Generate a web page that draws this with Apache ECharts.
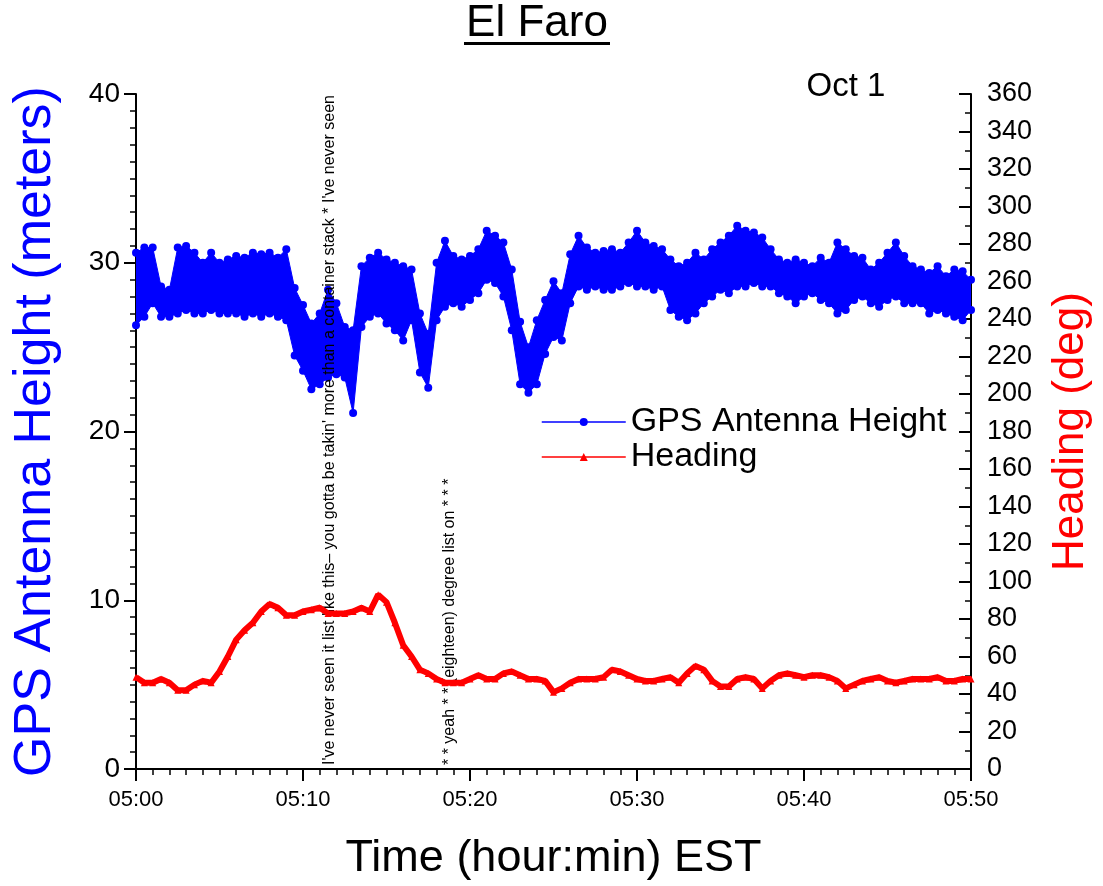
<!DOCTYPE html>
<html>
<head>
<meta charset="utf-8">
<script src="https://cdn.jsdelivr.net/npm/echarts@6/dist/echarts.min.js"></script>
<style>
  html, body { margin: 0; padding: 0; background: #fff; }
  #chart { width: 1103px; height: 886px; }
</style>
</head>
<body>
<div id="chart"></div>
<script>
// minutes after 05:00
const minutes = [
  0, 0.5, 1, 1.5, 2, 2.5, 3, 3.5, 4, 4.5,
  5, 5.5, 6, 6.5, 7, 7.5, 8, 8.5, 9, 9.5,
  10, 10.5, 11, 11.5, 12, 12.5, 13, 13.5, 14, 14.5,
  15, 15.5, 16, 16.5, 17, 17.5, 18, 18.5, 19, 19.5,
  20, 20.5, 21, 21.5, 22, 22.5, 23, 23.5, 24, 24.5,
  25, 25.5, 26, 26.5, 27, 27.5, 28, 28.5, 29, 29.5,
  30, 30.5, 31, 31.5, 32, 32.5, 33, 33.5, 34, 34.5,
  35, 35.5, 36, 36.5, 37, 37.5, 38, 38.5, 39, 39.5,
  40, 40.5, 41, 41.5, 42, 42.5, 43, 43.5, 44, 44.5,
  45, 45.5, 46, 46.5, 47, 47.5, 48, 48.5, 49, 49.5,
  50
];
// upper / lower edge of the noisy GPS height band (m)
const gpsHigh = [
  30.6, 30.9, 30.9, 28.6, 28.4, 30.9, 31.0, 30.6, 30.0, 30.6,
  30.0, 30.2, 30.4, 30.3, 30.6, 30.5, 30.6, 30.3, 30.8, 28.5,
  27.5, 26.4, 27.0, 28.4, 27.6, 26.2, 26.0, 29.8, 30.3, 30.6,
  30.2, 30.0, 29.8, 29.6, 27.0, 25.8, 30.0, 31.3, 30.4, 30.2,
  30.4, 30.8, 31.9, 31.6, 31.2, 29.6, 26.5, 25.0, 26.6, 27.8,
  28.9, 28.2, 30.5, 31.6, 30.9, 30.6, 30.7, 30.8, 30.6, 31.2,
  31.9, 31.2, 31.0, 30.8, 30.2, 29.8, 30.0, 30.6, 30.2, 30.8,
  31.2, 31.6, 32.2, 31.9, 31.8, 31.5, 30.8, 30.2, 30.0, 30.2,
  30.0, 29.8, 30.3, 30.0, 31.2, 30.8, 30.4, 30.3, 29.6, 30.0,
  30.6, 31.2, 30.4, 29.8, 29.6, 29.4, 29.8, 29.2, 29.6, 29.5,
  29.0
];
const gpsLow = [
  26.3, 26.8, 27.6, 26.8, 26.8, 27.0, 27.2, 27.0, 27.0, 27.2,
  27.0, 27.0, 27.0, 26.8, 27.0, 26.8, 27.0, 26.8, 26.6, 24.5,
  23.6, 22.5, 22.8, 23.2, 23.4, 23.2, 21.1, 26.2, 26.8, 27.0,
  26.4, 26.0, 25.4, 26.6, 23.5, 22.6, 26.6, 27.4, 27.6, 27.4,
  27.8, 28.2, 29.0, 28.8, 28.0, 26.0, 22.8, 22.3, 22.8, 24.6,
  25.6, 25.4, 27.6, 28.6, 28.4, 28.6, 28.4, 28.4, 28.6, 28.8,
  28.6, 28.6, 28.4, 28.6, 27.2, 26.8, 26.6, 27.0, 27.6, 28.0,
  28.4, 28.2, 28.6, 28.6, 28.8, 28.6, 28.6, 28.2, 28.0, 27.6,
  28.0, 28.2, 27.8, 27.6, 27.0, 27.2, 27.8, 28.0, 27.6, 27.4,
  27.8, 28.0, 27.6, 27.6, 27.6, 27.0, 27.2, 27.0, 26.8, 26.6,
  27.2
];
// heading (deg)
const heading = [
  49, 46, 46, 48, 46, 42, 42, 45, 47, 46,
  52, 60, 69, 74, 78, 84, 88, 86, 82, 82,
  84, 85, 86, 83, 83, 83, 84, 86, 84, 93,
  89, 78, 66, 60, 53, 51, 48, 46, 46, 46,
  48, 50, 48, 48, 51, 52, 50, 48, 48, 47,
  41, 43, 46, 48, 48, 48, 49, 53, 52, 50,
  48, 47, 47, 48, 49, 46, 51, 55, 53, 47,
  44, 44, 48, 49, 48, 43, 47, 50, 51, 50,
  49, 50, 50, 49, 47, 43, 45, 47, 48, 49,
  47, 46, 47, 48, 48, 48, 49, 47, 47, 48,
  48
];
const timeLabels = ['05:00', '05:10', '05:20', '05:30', '05:40', '05:50'];

const quote1 = "I've never seen it list like this\u2013 you gotta be takin' more than a container stack * I've never seen";
const quote2 = '* * yeah * * (eighteen) degree list on * * *';

const FONT = '"Liberation Sans", Arial, sans-serif';
const BLUE = '#0000ff';
const RED = '#ff0000';

function pairs(arr) {
  return minutes.map((m, i) => [m, arr[i]]);
}

const chart = echarts.init(document.getElementById('chart'));

const axisBlack = { lineStyle: { color: '#000', width: 2 } };

// filled band between the low and high edges
function renderBand(params, api) {
  const top = minutes.map((m, i) => api.coord([m, gpsHigh[i]]));
  const bottom = minutes.map((m, i) => api.coord([m, gpsLow[i]])).reverse();
  return {
    type: 'polygon',
    shape: { points: top.concat(bottom) },
    style: { fill: BLUE }
  };
}

chart.setOption({
  animation: false,
  textStyle: { fontFamily: FONT },
  grid: { left: 136, right: 132, top: 94, bottom: 117 },
  legend: {
    orient: 'vertical',
    left: 536,
    top: 400,
    itemWidth: 84,
    itemHeight: 10,
    itemGap: 1,
    data: ['GPS Antenna Height', 'Heading'],
    lineStyle: { width: 1.5 },
    textStyle: { fontSize: 34, color: '#000', fontFamily: FONT }
  },
  xAxis: {
    type: 'value',
    min: 0,
    max: 50,
    interval: 10,
    axisLine: axisBlack,
    axisTick: { length: 12, lineStyle: { color: '#000', width: 2 } },
    minorTick: { show: true, splitNumber: 10, length: 6, lineStyle: { color: '#000', width: 1.5 } },
    splitLine: { show: false },
    axisLabel: {
      margin: 20,
      fontSize: 22,
      color: '#000',
      formatter: v => timeLabels[Math.round(v / 10)]
    },
    name: 'Time (hour:min) EST',
    nameLocation: 'middle',
    nameGap: 67,
    nameTextStyle: { fontSize: 45, color: '#000' }
  },
  yAxis: [
    {
      type: 'value',
      position: 'left',
      min: 0,
      max: 40,
      interval: 10,
      axisLine: { show: true, lineStyle: { color: '#000', width: 2 } },
      axisTick: { show: true, length: 12, lineStyle: { color: '#000', width: 2 } },
      minorTick: { show: true, splitNumber: 10, length: 6, lineStyle: { color: '#000', width: 1.5 } },
      splitLine: { show: false },
      axisLabel: { margin: 16, fontSize: 28, color: '#000' },
      name: 'GPS Antenna Height (meters)',
      nameLocation: 'middle',
      nameRotate: 90,
      nameGap: 74,
      nameTextStyle: { fontSize: 52, color: BLUE }
    },
    {
      type: 'value',
      position: 'right',
      min: 0,
      max: 360,
      interval: 20,
      axisLine: { show: true, lineStyle: { color: '#000', width: 2 } },
      axisTick: { show: true, inside: true, length: 12, lineStyle: { color: '#000', width: 2 } },
      minorTick: { show: true, splitNumber: 2, length: 6, lineStyle: { color: '#000', width: 1.5 } },
      splitLine: { show: false },
      axisLabel: { margin: 16, fontSize: 27, color: '#000' },
      name: 'Heading (deg)',
      nameLocation: 'middle',
      nameRotate: 90,
      nameGap: 78,
      nameTextStyle: { fontSize: 44, color: RED }
    }
  ],
  series: [
    {
      name: 'GPS Antenna Height',
      type: 'line',
      data: pairs(gpsHigh),
      symbol: 'circle',
      symbolSize: 8,
      showAllSymbol: true,
      itemStyle: { color: BLUE },
      lineStyle: { color: BLUE, width: 1 },
      z: 2
    },
    {
      name: 'GPS Antenna Height',
      type: 'line',
      data: pairs(gpsLow),
      symbol: 'circle',
      symbolSize: 8,
      showAllSymbol: true,
      itemStyle: { color: BLUE },
      lineStyle: { color: BLUE, width: 1 },
      z: 2
    },
    {
      name: 'gpsBand',
      type: 'custom',
      data: [[0, 0]],
      renderItem: renderBand,
      silent: true,
      z: 1
    },
    {
      name: 'Heading',
      type: 'line',
      yAxisIndex: 1,
      data: pairs(heading),
      symbol: 'triangle',
      symbolSize: 7,
      showAllSymbol: true,
      itemStyle: { color: RED },
      lineStyle: { color: RED, width: 6 },
      z: 5
    }
  ],
  graphic: [
    {
      type: 'text', x: 537, y: 24, z: 10,
      style: { text: 'El Faro', fontSize: 44, fontFamily: FONT, fill: '#000', align: 'center', verticalAlign: 'middle' }
    },
    { type: 'rect', shape: { x: 464, y: 42, width: 146, height: 3 }, style: { fill: '#000' }, z: 10 },
    {
      type: 'text', x: 846, y: 87, z: 10,
      style: { text: 'Oct 1', fontSize: 33, fontFamily: FONT, fill: '#000', align: 'center', verticalAlign: 'middle' }
    },
    {
      type: 'text', x: 330, y: 765, rotation: Math.PI / 2, z: 3,
      style: {
        text: quote1, fontSize: 16, fontFamily: FONT, fill: '#000',
        align: 'left', verticalAlign: 'middle', width: 671, overflow: 'truncate', ellipsis: ''
      }
    },
    {
      type: 'text', x: 450, y: 765, rotation: Math.PI / 2, z: 3,
      style: { text: quote2, fontSize: 16, fontFamily: FONT, fill: '#000', align: 'left', verticalAlign: 'middle' }
    }
  ]
});
</script>
</body>
</html>
